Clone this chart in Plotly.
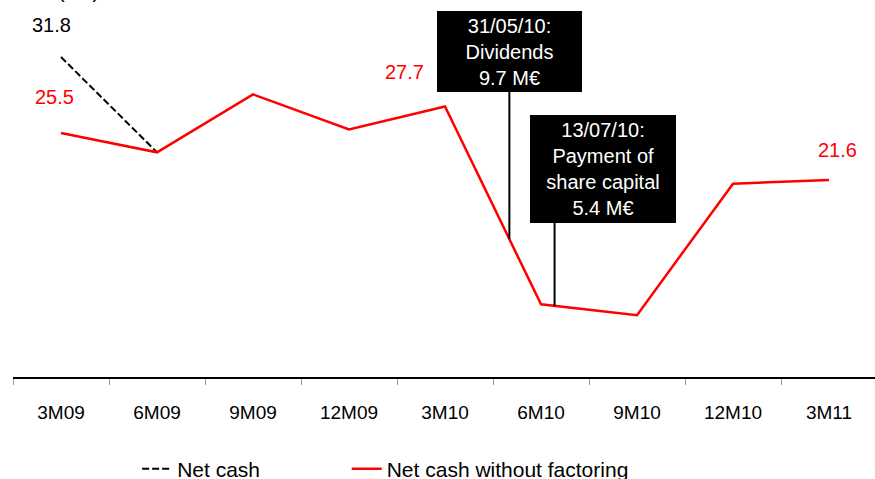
import plotly.graph_objects as go
from datetime import date

# ---- data ----
periods = ["3M09", "6M09", "9M09", "12M09", "3M10", "6M10", "9M10", "12M10", "3M11"]
period_ends = [date(2009, 3, 31), date(2009, 6, 30), date(2009, 9, 30), date(2009, 12, 31),
               date(2010, 3, 31), date(2010, 6, 30), date(2010, 9, 30), date(2010, 12, 31),
               date(2011, 3, 31)]
net_cash = [31.8, 23.9, None, None, None, None, None, None, None]
net_cash_wo_factoring = [25.5, 23.9, 28.7, 25.8, 27.7, 11.3, 10.4, 21.3, 21.6]

net_cash_labels = {0: "31.8"}
wo_factoring_labels = {0: "25.5", 4: "27.7", 8: "21.6"}

events = [
    (date(2010, 5, 31), "31/05/10:<br>Dividends<br>9.7 M€"),
    (date(2010, 7, 13), "13/07/10:<br>Payment of<br>share capital<br>5.4 M€"),
]

FONT = "Liberation Sans, Arial, sans-serif"
RED = "#ff0000"
NBSP = "\u00a0"

fig = go.Figure()
fig.add_trace(go.Scatter(
    x=periods, y=net_cash, mode="lines", name="Net cash" + NBSP * 14,
    line=dict(color="black", width=2, dash="7px,3px"), connectgaps=False,
))
fig.add_trace(go.Scatter(
    x=periods, y=net_cash_wo_factoring, mode="lines", name="Net cash without factoring",
    line=dict(color=RED, width=2.5),
))

# data labels
label_shifts = {("nc", 0): (-10, 32), ("wf", 0): (-7, 36), ("wf", 4): (-41, 34), ("wf", 8): (8, 30)}
for i, t in net_cash_labels.items():
    dx, dy = label_shifts[("nc", i)]
    fig.add_annotation(x=i, y=net_cash[i], text=t, showarrow=False, xshift=dx, yshift=dy,
                       font=dict(family=FONT, size=20, color="black"))
for i, t in wo_factoring_labels.items():
    dx, dy = label_shifts[("wf", i)]
    fig.add_annotation(x=i, y=net_cash_wo_factoring[i], text=t, showarrow=False, xshift=dx, yshift=dy,
                       font=dict(family=FONT, size=20, color=RED))


def event_position(d):
    for k in range(len(period_ends) - 1):
        if period_ends[k] <= d <= period_ends[k + 1]:
            f = (d - period_ends[k]).days / (period_ends[k + 1] - period_ends[k]).days
            y = net_cash_wo_factoring[k] + f * (net_cash_wo_factoring[k + 1] - net_cash_wo_factoring[k])
            return k + f, y
    return None


box_styles = [
    dict(stem=147, xshift=0, width=145, height=81),
    dict(stem=83, xshift=48, width=146, height=108),
]
for (d, txt), st in zip(events, box_styles):
    ex, ey = event_position(d)
    fig.add_shape(type="line", xref="x", yref="y", x0=ex, x1=ex,
                  ysizemode="pixel", yanchor=ey, y0=0, y1=st["stem"],
                  line=dict(color="black", width=2))
    fig.add_annotation(x=ex, y=ey, text=txt, showarrow=False, xshift=st["xshift"],
                       yanchor="bottom", yshift=st["stem"], width=st["width"], height=st["height"],
                       bgcolor="black", borderpad=0, borderwidth=0, align="center", valign="middle",
                       font=dict(family=FONT, size=20, color="white"))

# unit label (cut at top, as in the source)
fig.add_annotation(xref="paper", yref="paper", x=0.05, y=1, yanchor="bottom", yshift=-4,
                   text="(M€)", showarrow=False, font=dict(family=FONT, size=20, color="black"))

fig.update_layout(
    width=875, height=479,
    margin=dict(l=13, r=0, t=0, b=102, autoexpand=False),
    paper_bgcolor="white", plot_bgcolor="white",
    showlegend=True,
    legend=dict(orientation="h", x=0.144, xanchor="left", y=-0.244, yanchor="middle",
                font=dict(family=FONT, size=21, color="black"),
                bgcolor="rgba(0,0,0,0)"),
    xaxis=dict(type="category", range=[-0.5, 8.479], showline=True, linecolor="black", linewidth=1.5,
               ticks="outside", tickson="boundaries", ticklen=6, tickcolor="#999999", tickwidth=1,
               showgrid=False, zeroline=False, ticklabelstandoff=17, automargin=False,
               tickfont=dict(family=FONT, size=19, color="black")),
    yaxis=dict(range=[5.27, 36.53], visible=False, showgrid=False, zeroline=False, automargin=False),
)

fig.write_html("out.html", config={"displayModeBar": False},
               post_script="document.body.style.margin='0px';")
